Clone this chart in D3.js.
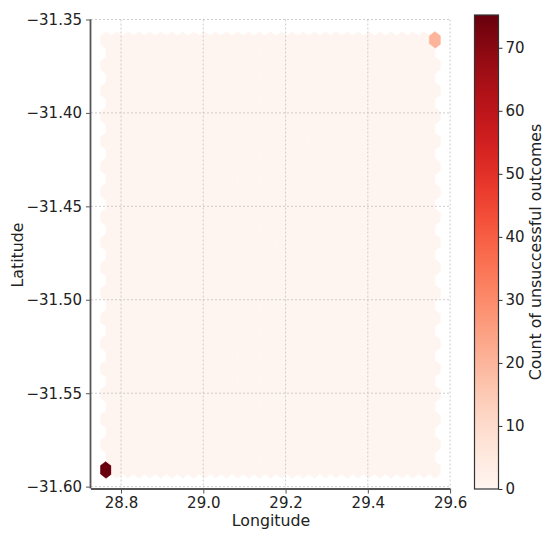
<!DOCTYPE html>
<html>
<head>
<meta charset="utf-8">
<script src="https://cdn.jsdelivr.net/npm/d3@7"></script>
<style>
  body { margin: 0; background: #fff; }
  text { font-family: "DejaVu Sans", sans-serif; fill: #222; }
</style>
</head>
<body>
<svg id="chart" width="550" height="537"></svg>
<script>
/* observed points: hex bins that hold counts (all other bins are 0) */
var point_lon = [28.7635, 29.563];
var point_lat = [-31.591, -31.361];
var point_count = [75, 20];

var x_ticks = [28.8, 29.0, 29.2, 29.4, 29.6];
var y_ticks = [-31.35, -31.40, -31.45, -31.50, -31.55, -31.60];
var cbar_ticks = [0, 10, 20, 30, 40, 50, 60, 70];
var count_max = 75.2;
var gridsize = 30;

var svg = d3.select("#chart");

/* plot region in pixels */
var margin = {top: 19.5, right: 99.5, bottom: 48.5, left: 91},
    width = 550 - margin.left - margin.right,
    height = 537 - margin.top - margin.bottom;

var x = d3.scaleLinear().domain([28.727, 29.601]).range([0, width]);
var y = d3.scaleLinear().domain([-31.601, -31.35]).range([height, 0]);
var color = d3.scaleSequential(d3.interpolateReds).domain([0, count_max]);

var g = svg.append("g")
    .attr("transform", "translate(" + margin.left + "," + margin.top + ")");

/* matplotlib-style hex lattice built from the data extent */
var xmin = d3.min(point_lon), xmax = d3.max(point_lon),
    ymin = d3.min(point_lat), ymax = d3.max(point_lat);
var nx = gridsize, ny = Math.floor(gridsize / Math.sqrt(3));
var sx = (xmax - xmin) / nx, sy = (ymax - ymin) / ny;

var bins = [];
for (var i = 0; i <= nx; i++)
  for (var j = 0; j <= ny; j++)
    bins.push({cx: xmin + i * sx, cy: ymin + j * sy, count: 0});
for (var i = 0; i < nx; i++)
  for (var j = 0; j < ny; j++)
    bins.push({cx: xmin + (i + 0.5) * sx, cy: ymin + (j + 0.5) * sy, count: 0});

/* drop each point into the nearest bin */
point_lon.forEach(function(lon, k) {
  var best = d3.least(bins, function(b) {
    var dx = (b.cx - lon) / sx, dy = (b.cy - point_lat[k]) / sy;
    return dx * dx + 3 * dy * dy;
  });
  best.count += point_count[k];
});

var hex_off = [[0.5, -0.5], [0.5, 0.5], [0, 1], [-0.5, 0.5], [-0.5, -0.5], [0, -1]];

function hexPath(b) {
  return "M" + hex_off.map(function(o) {
    return x(b.cx + o[0] * sx) + "," + y(b.cy + o[1] * sy / 3);
  }).join("L") + "Z";
}

g.selectAll(".hex")
  .data(bins)
  .enter().append("path")
    .attr("class", "hex")
    .attr("d", hexPath)
    .attr("fill", function(d) { return color(d.count); })
    .attr("stroke", function(d) { return color(d.count); })
    .attr("stroke-width", 0.6);

/* grid over the hexes */
g.append("g").selectAll("line")
  .data(x_ticks)
  .enter().append("line")
    .attr("x1", function(d) { return x(d); })
    .attr("x2", function(d) { return x(d); })
    .attr("y1", 0).attr("y2", height)
    .attr("stroke", "#c0c0c0").attr("stroke-width", 0.8)
    .attr("stroke-dasharray", "2,2");

g.append("g").selectAll("line")
  .data(y_ticks)
  .enter().append("line")
    .attr("y1", function(d) { return y(d); })
    .attr("y2", function(d) { return y(d); })
    .attr("x1", 0).attr("x2", x(29.6))
    .attr("stroke", "#c0c0c0").attr("stroke-width", 0.8)
    .attr("stroke-dasharray", "2,2");

/* axes */
var fmt_x = d3.format(".1f");
var fmt_y = function(d) { return d3.format(".2f")(d).replace("-", "\u2212"); };

var x_axis = g.append("g")
    .attr("transform", "translate(0," + height + ")")
    .call(d3.axisBottom(x).tickValues(x_ticks).tickFormat(fmt_x).tickSize(5).tickPadding(4));

var y_axis = g.append("g")
    .call(d3.axisLeft(y).tickValues(y_ticks).tickFormat(fmt_y).tickSize(5).tickPadding(4));

[x_axis, y_axis].forEach(function(a) {
  a.select(".domain").attr("stroke", "#555").attr("stroke-width", 1.8);
  a.selectAll(".tick line").attr("stroke", "#555").attr("stroke-width", 1);
  a.selectAll(".tick text").style("font-size", "15px").attr("fill", "#222");
});
x_axis.select(".domain").attr("d", "M0,0.5H" + x(29.6));
y_axis.select(".domain").attr("d", "M-0.5," + height + "V0");

svg.append("text")
    .attr("x", 271)
    .attr("y", 526)
    .attr("text-anchor", "middle")
    .style("font-size", "15.8px")
    .text("Longitude");

svg.append("text")
    .attr("transform", "translate(23,255) rotate(-90)")
    .attr("text-anchor", "middle")
    .style("font-size", "15.8px")
    .text("Latitude");

/* colorbar */
var cb = {x: 474.5, y: 15, w: 24, h: 474};
var cy = d3.scaleLinear().domain([0, count_max]).range([cb.y + cb.h, cb.y]);

var grad = svg.append("defs").append("linearGradient")
    .attr("id", "cbar").attr("x1", 0).attr("y1", 1).attr("x2", 0).attr("y2", 0);
grad.selectAll("stop")
  .data(d3.range(0, 1.0001, 0.02))
  .enter().append("stop")
    .attr("offset", function(d) { return d; })
    .attr("stop-color", function(d) { return d3.interpolateReds(d); });

svg.append("rect")
    .attr("x", cb.x).attr("y", cb.y)
    .attr("width", cb.w).attr("height", cb.h)
    .attr("fill", "url(#cbar)")
    .attr("stroke", "#333").attr("stroke-width", 1.2);

var cb_axis = svg.append("g")
    .attr("transform", "translate(" + (cb.x + cb.w) + ",0)")
    .call(d3.axisRight(cy).tickValues(cbar_ticks).tickSize(4).tickPadding(3));
cb_axis.select(".domain").remove();
cb_axis.selectAll(".tick line").attr("stroke", "#333");
cb_axis.selectAll(".tick text").style("font-size", "15px").attr("fill", "#222");

svg.append("text")
    .attr("transform", "translate(541,252) rotate(-90)")
    .attr("text-anchor", "middle")
    .style("font-size", "15.8px")
    .text("Count of unsuccessful outcomes");
</script>
</body>
</html>
